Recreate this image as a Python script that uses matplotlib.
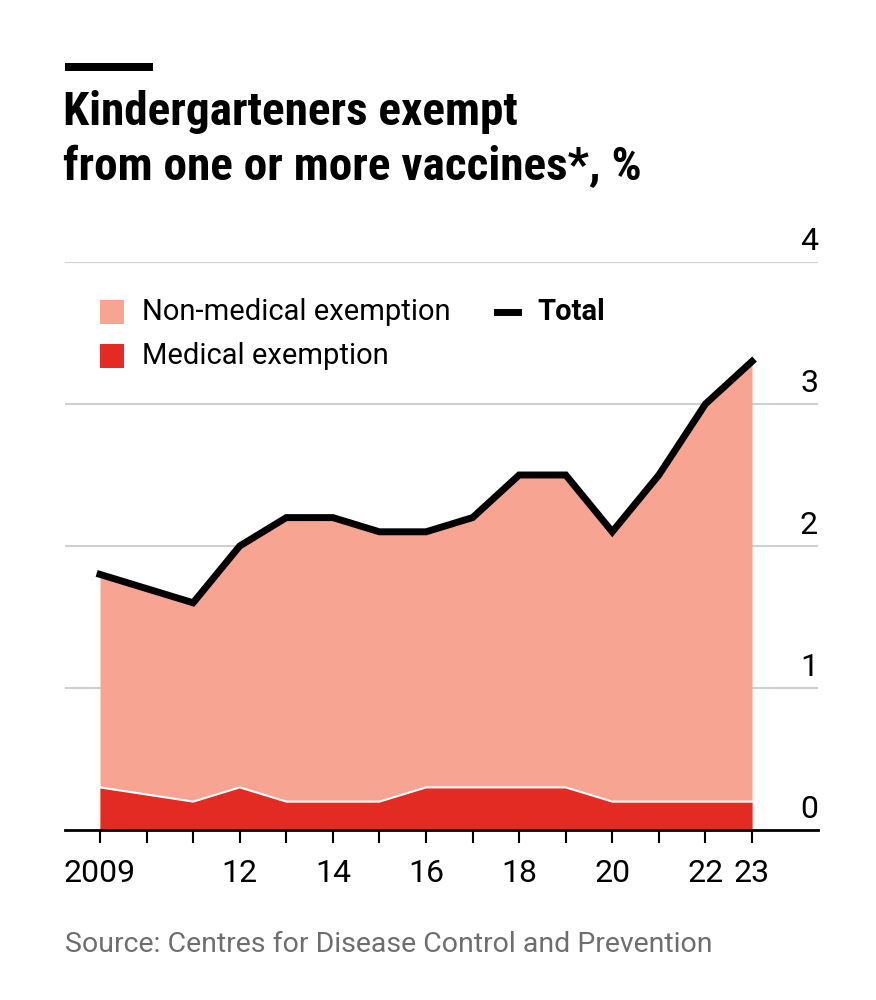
import matplotlib.pyplot as plt
from matplotlib.patches import Rectangle
from matplotlib.lines import Line2D
from matplotlib import font_manager
import matplotlib.transforms as mtransforms

# ------------------------
# Data
# ------------------------
years = [2009, 2010, 2011, 2012, 2013, 2014, 2015, 2016, 2017, 2018, 2019, 2020, 2021, 2022, 2023]
total = [1.8, 1.7, 1.6, 2.0, 2.2, 2.2, 2.1, 2.1, 2.2, 2.5, 2.5, 2.1, 2.5, 3.0, 3.3]
medical = [0.3, 0.25, 0.2, 0.3, 0.2, 0.2, 0.2, 0.3, 0.3, 0.3, 0.3, 0.2, 0.2, 0.2, 0.2]
x_ticks = [2009, 2012, 2014, 2016, 2018, 2020, 2022, 2023]
x_labels = ["2009", "12", "14", "16", "18", "20", "22", "23"]
y_ticks = [0, 1, 2, 3, 4]

# ------------------------
# Fonts / colours
# ------------------------
names = {f.name for f in font_manager.fontManager.ttflist}
narrow = "Roboto"
for cand in ["Roboto Condensed", "Liberation Sans Narrow", "Open Sans Condensed", "Roboto"]:
    if cand in names:
        narrow = cand
        break
body = "Roboto" if "Roboto" in names else "DejaVu Sans"

c_nonmed = "#f7a492"
c_med = "#e32b24"
c_grid = "#d0d0d0"
c_src = "#6e6e6e"

fig = plt.figure(figsize=(8.76, 10), dpi=100)
ax = fig.add_axes([65/876, 1 - 830/1000, (818 - 65)/876, (830 - 262)/1000])

px = 46.57
ax.set_xlim(2009 - 35/px, 2023 + 66/px)
ax.set_ylim(0, 4)

# areas
ax.fill_between(years, 0, total, color=c_nonmed, lw=0, zorder=1)
ax.fill_between(years, 0, medical, color=c_med, lw=0, zorder=2)
ax.plot(years, medical, color="white", lw=1.5, zorder=3)
ax.plot(years, total, color="black", lw=5, solid_joinstyle="miter", zorder=4, clip_on=False)

# gridlines and y labels
trans = mtransforms.blended_transform_factory(ax.transAxes, ax.transData)
for y in y_ticks:
    if y > 0:
        ax.axhline(y, color=c_grid, lw=1.5, zorder=0)
    ax.text(1.0, y + 0.04, str(y), transform=trans,
            ha="right", va="bottom", fontsize=23, family=body, color="black")
ax.axhline(0, color="black", lw=2, zorder=5, clip_on=False)

for s in ax.spines.values():
    s.set_visible(False)
ax.set_yticks([])
ax.set_xticks(years, minor=True)
ax.set_xticks(x_ticks)
ax.set_xticklabels(x_labels, fontsize=23, family=body)
ax.tick_params(axis="x", which="both", direction="out", length=9, width=1.5, color="black", pad=12)

# legend
fig.patches.append(Rectangle((100/876, 1 - 324/1000), 24/876, 24/1000, transform=fig.transFigure,
                             color=c_nonmed, lw=0))
fig.patches.append(Rectangle((100/876, 1 - 368/1000), 24/876, 24/1000, transform=fig.transFigure,
                             color=c_med, lw=0))
fig.text(142/876, 1 - 312/1000, "Non-medical exemption", fontsize=21, family=body, va="center")
fig.text(142/876, 1 - 356/1000, "Medical exemption", fontsize=21, family=body, va="center")
fig.lines.append(Line2D([497/876, 518/876], [1 - 312/1000, 1 - 312/1000], transform=fig.transFigure,
                        color="black", lw=5))
fig.text(537/876, 1 - 312/1000, "Total", fontsize=21, family=body, weight="bold", va="center")

# title
fig.patches.append(Rectangle((65/876, 1 - 71/1000), 88/876, 8/1000, transform=fig.transFigure,
                             color="black", lw=0))
fig.text(63/876, 1 - 112/1000, "Kindergarteners exempt", fontsize=34, family=narrow,
         weight="bold", va="center")
fig.text(63/876, 1 - 167/1000, "from one or more vaccines*, %", fontsize=34, family=narrow,
         weight="bold", va="center")

# source
fig.text(65/876, 1 - 945/1000, "Source: Centres for Disease Control and Prevention", fontsize=20.5,
         family=body, color=c_src, va="center")

fig.savefig("out.png", dpi=100, facecolor="white")
